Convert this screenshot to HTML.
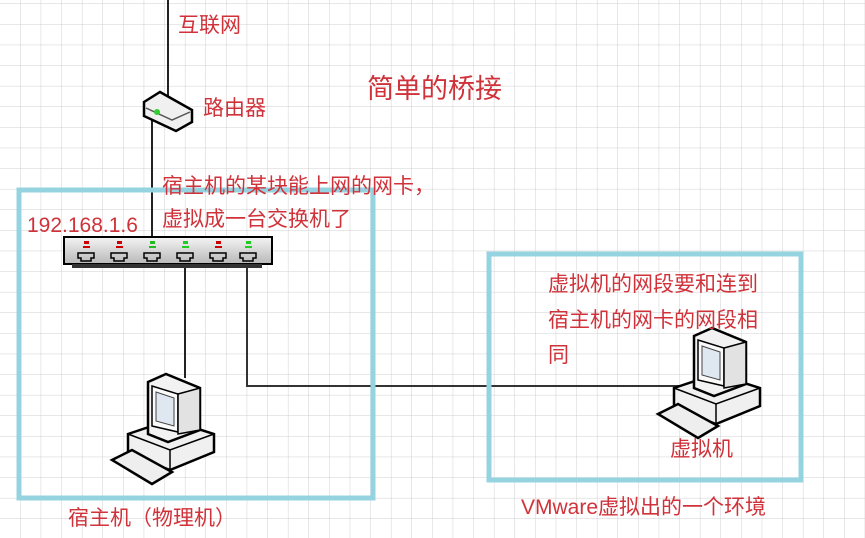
<!DOCTYPE html>
<html><head><meta charset="utf-8"><style>
html,body{margin:0;padding:0;background:#fff;}
svg{display:block;}
text{font-family:"Liberation Sans","Noto Sans CJK SC",sans-serif;fill:#d0323a;}
</style></head><body>
<svg width="865" height="538" viewBox="0 0 865 538" xmlns="http://www.w3.org/2000/svg">
<defs>
<pattern id="g" width="20.6" height="20.6" patternUnits="userSpaceOnUse" x="0" y="4">
<path d="M20.6 0V20.6M0 20.6H20.6" stroke="#cfcfcf" stroke-width="1" fill="none"/>
</pattern>
<linearGradient id="sw" x1="0" y1="0" x2="0" y2="1"><stop offset="0" stop-color="#f4f4f4"/><stop offset="1" stop-color="#b8b8b8"/></linearGradient>
<g id="pc">
<polygon points="18,62 60,48 104,62 104,80 60,98 18,82" fill="#f0f0f0" stroke="#000" stroke-width="2.5"/>
<polyline points="18,62 60,78 104,62" fill="none" stroke="#000" stroke-width="1.5"/>
<line x1="60" y1="78" x2="60" y2="98" stroke="#000" stroke-width="1.5"/>
<polygon points="38,10 56,2 90,16 90,58 58,70 38,62" fill="#f2f2f2" stroke="#000" stroke-width="2.5"/>
<polygon points="42,14 68,22 68,60 42,54" fill="#fafafa" stroke="#000" stroke-width="1.5"/>
<polygon points="46,20 64,26 64,54 46,49" fill="#dfe7f0" stroke="#444" stroke-width="1"/>
<polygon points="68,22 90,16 90,58 68,62" fill="#e2e2e2" stroke="#000" stroke-width="1.5"/>
<polygon points="2,88 22,78 62,100 42,112" fill="#eee" stroke="#000" stroke-width="2.5"/>
</g>
</defs>
<rect width="865" height="538" fill="url(#g)"/>
<line x1="168" y1="0" x2="168" y2="98" stroke="#222" stroke-width="2"/>
<line x1="152" y1="118" x2="152" y2="240" stroke="#222" stroke-width="2"/>
<line x1="185" y1="262" x2="185" y2="378" stroke="#222" stroke-width="2"/>
<polyline points="247,262 247,386 682,386" fill="none" stroke="#333" stroke-width="2"/>
<rect x="19" y="190" width="354" height="308" fill="none" stroke="#96d3e0" stroke-width="5"/>
<rect x="489" y="254" width="312" height="226" fill="none" stroke="#96d3e0" stroke-width="5"/>
<polygon points="144,102 160,92 192,110 192,122 176,131 144,116" fill="#f0f0f0" stroke="#000" stroke-width="2.5"/>
<path d="M146,108 L172,120 L190,112" stroke="#555" fill="none" stroke-width="1.5"/>
<circle cx="157" cy="112" r="3" fill="#3c3"/>
<rect x="64" y="237" width="208" height="27" fill="url(#sw)" stroke="#000" stroke-width="2"/>
<rect x="72" y="264" width="190" height="4" fill="#333"/>
<g fill="none" stroke="#000" stroke-width="1.5">
<path d="M78,253h16v5h-3v3h-10v-3h-3z"/><path d="M111,253h16v5h-3v3h-10v-3h-3z"/><path d="M144,253h16v5h-3v3h-10v-3h-3z"/>
<path d="M177,253h16v5h-3v3h-10v-3h-3z"/><path d="M210,253h16v5h-3v3h-10v-3h-3z"/><path d="M240,253h16v5h-3v3h-10v-3h-3z"/>
</g>
<g>
<rect x="84" y="241" width="5" height="3" fill="#c00"/><rect x="83" y="246" width="7" height="2" fill="#c00"/>
<rect x="117" y="241" width="5" height="3" fill="#c00"/><rect x="116" y="246" width="7" height="2" fill="#c00"/>
<rect x="150" y="241" width="5" height="3" fill="#2b2"/><rect x="149" y="246" width="7" height="2" fill="#2b2"/>
<rect x="183" y="241" width="5" height="3" fill="#2c2"/><rect x="182" y="246" width="7" height="2" fill="#2c2"/>
<rect x="216" y="241" width="5" height="3" fill="#c00"/><rect x="215" y="246" width="7" height="2" fill="#c00"/>
<rect x="246" y="241" width="5" height="3" fill="#2c2"/><rect x="245" y="246" width="7" height="2" fill="#2c2"/>
</g>
<use href="#pc" transform="translate(110,372)"/>
<use href="#pc" transform="translate(656,326)"/>
<text x="178" y="32" font-size="21">互联网</text>
<text x="203" y="115" font-size="21">路由器</text>
<text x="367" y="98" font-size="27">简单的桥接</text>
<text x="162" y="193" font-size="21">宿主机的某块能上网的网卡，</text>
<text x="162" y="226" font-size="21">虚拟成一台交换机了</text>
<text x="27" y="232" font-size="21">192.168.1.6</text>
<text x="548" y="291" font-size="21">虚拟机的网段要和连到</text>
<text x="548" y="327" font-size="21">宿主机的网卡的网段相</text>
<text x="548" y="362" font-size="21">同</text>
<text x="670" y="456" font-size="21">虚拟机</text>
<text x="521" y="514" font-size="21">VMware虚拟出的一个环境</text>
<text x="68" y="525" font-size="21">宿主机（物理机）</text>
</svg>
</body></html>
